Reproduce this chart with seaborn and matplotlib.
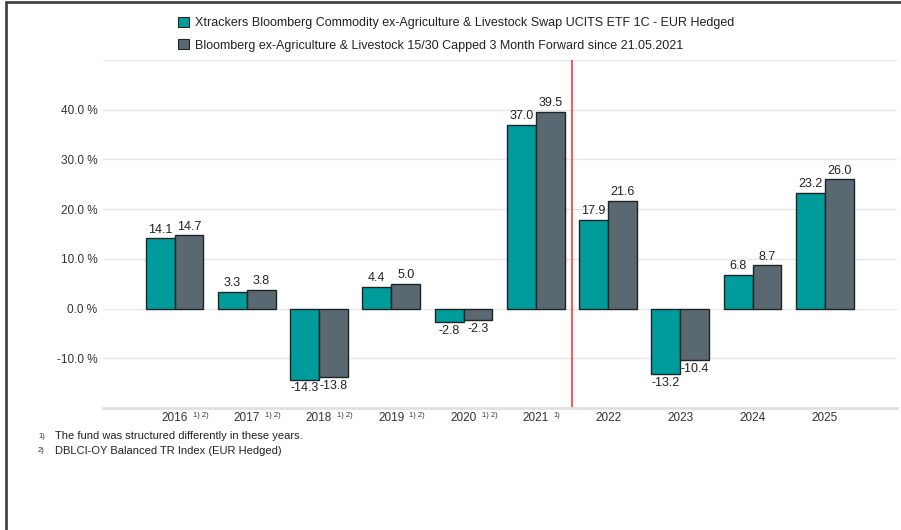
import numpy as np
import pandas as pd
import matplotlib
matplotlib.use("Agg")
import matplotlib.pyplot as plt
from matplotlib.lines import Line2D
import seaborn as sns

years = ['2016', '2017', '2018', '2019', '2020', '2021', '2022', '2023', '2024', '2025']
notes = ['1) 2)', '1) 2)', '1) 2)', '1) 2)', '1) 2)', '1)', '', '', '', '']
fund = [14.1, 3.3, -14.3, 4.4, -2.8, 37.0, 17.9, -13.2, 6.8, 23.2]
index = [14.7, 3.8, -13.8, 5.0, -2.3, 39.5, 21.6, -10.4, 8.7, 26.0]
fund_name = 'Xtrackers Bloomberg Commodity ex-Agriculture & Livestock Swap UCITS ETF 1C - EUR Hedged'
index_name = 'Bloomberg ex-Agriculture & Livestock 15/30 Capped 3 Month Forward since 21.05.2021'
footnotes = ['The fund was structured differently in these years.',
             'DBLCI-OY Balanced TR Index (EUR Hedged)']

df = pd.DataFrame({
    'year': years * 2,
    'value': fund + index,
    'series': [fund_name] * len(years) + [index_name] * len(years),
})

sns.set_style('white')
plt.rcParams['font.family'] = ['Liberation Sans', 'DejaVu Sans']

fig = plt.figure(figsize=(9.01, 5.30), dpi=100)
ax = fig.add_axes([0.1143, 0.2302, 0.8813, 0.6566])

sns.barplot(data=df, x='year', y='value', hue='series',
            palette=['#009b9b', '#5a6872'], saturation=1,
            edgecolor='#1e2526', linewidth=1,
            width=0.8, legend=False, ax=ax)

for cont in ax.containers:
    ax.bar_label(cont, fmt='%.1f', padding=2, fontsize=9, color='#222222')

ax.set_xlim(-0.98, 10.0)
ax.set_ylim(-20, 50)
ax.set_yticks([-20, -10, 0, 10, 20, 30, 40, 50])
ax.set_yticklabels(['', '-10.0 %', '0.0 %', '10.0 %', '20.0 %', '30.0 %', '40.0 %', ''],
                   fontsize=8.5, color='#333333')
ax.yaxis.grid(True, color='#e6e6e6', linewidth=1)
ax.set_axisbelow(True)
ax.tick_params(axis='y', length=0, pad=4)

ax.set_xticks(range(len(years)))
ax.set_xticklabels(years, fontsize=8.5, color='#333333')
ax.tick_params(axis='x', which='major', length=0, pad=3)
minor = [-0.99, -0.66] + [i - 0.32 for i in range(11)] + [6.36, 7.36, 8.36, 9.36, 10.0]
ax.set_xticks(minor, minor=True)
ax.tick_params(axis='x', which='minor', length=4, color='#dddddd', width=1)
for i, n in enumerate(notes):
    if n:
        ax.annotate(n, xy=(i, 0), xycoords=('data', 'axes fraction'),
                    xytext=(13, -3), textcoords='offset points',
                    fontsize=5.5, color='#333333', va='top', ha='left')

ax.set_xlabel('')
ax.set_ylabel('')
for s in ['top', 'right', 'left']:
    ax.spines[s].set_visible(False)
ax.spines['bottom'].set_color('#e0e0e0')
ax.spines['bottom'].set_linewidth(2)

ax.axvline(5.5, color='#ff2a2a', linewidth=1.1)

# legend
handles = [plt.Rectangle((0, 0), 1, 1, facecolor=c, edgecolor='#1e2526', linewidth=0.8)
           for c in ['#009b9b', '#5a6872']]
fig.legend(handles, [fund_name, index_name], loc='upper left',
           bbox_to_anchor=(0.185, 0.99), frameon=False, fontsize=9,
           handlelength=0.9, handleheight=0.9, handletextpad=0.5, labelspacing=0.8,
           labelcolor='#222222')

# footnotes
for k, txt in enumerate(footnotes):
    y = 1 - (436 + 15 * k) / 530
    fig.text(38 / 901, y, f'{k + 1})', fontsize=5.5, color='#333333', va='center')
    fig.text(55 / 901, y, txt, fontsize=8, color='#222222', va='center')

# screenshot frame
fig.add_artist(Line2D([6 / 901, 1], [1 - 2 / 530, 1 - 2 / 530], color='#444444', linewidth=2))
fig.add_artist(Line2D([6 / 901, 6 / 901], [0, 1 - 2 / 530], color='#444444', linewidth=2))

fig.savefig('out.png', dpi=100)
